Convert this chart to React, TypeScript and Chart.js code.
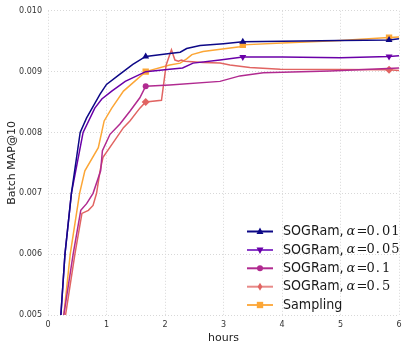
import React, { useEffect, useRef } from "react";
import { Chart, registerables } from "chart.js";

Chart.register(...registerables);

const xTicks = [0, 1, 2, 3, 4, 5, 6];
const yTicks = [0.005, 0.006, 0.007, 0.008, 0.009, 0.01];

const labels = ["SOGRam, α = 0.01", "SOGRam, α = 0.05", "SOGRam, α = 0.1", "SOGRam, α = 0.5", "Sampling"];
const alphaValues = ["0.01", "0.05", "0.1", "0.5", ""];

const s001X = [0.2, 0.22, 0.29, 0.4, 0.55, 0.66, 0.89, 1.0, 1.23, 1.45, 1.67, 2.08, 2.26, 2.37, 2.6, 3.0, 3.33, 4, 5, 5.83, 6];
const s001Y = [0.0046, 0.005, 0.006, 0.007, 0.008, 0.00824, 0.00863, 0.00879, 0.00896, 0.00912, 0.00925, 0.0093, 0.00932, 0.00938, 0.00943, 0.00946, 0.00949, 0.0095, 0.00951, 0.00952, 0.00954];

const s005X = [0.19, 0.22, 0.29, 0.4, 0.6, 0.8, 0.92, 1.09, 1.32, 1.67, 2.08, 2.3, 2.48, 2.94, 3.33, 4, 5, 5.83, 6];
const s005Y = [0.0045, 0.005, 0.006, 0.007, 0.008, 0.0084, 0.00855, 0.00868, 0.00884, 0.009, 0.00904, 0.00906, 0.00914, 0.00919, 0.00924, 0.00924, 0.00923, 0.00925, 0.00926];

const s01X = [0.25, 0.27, 0.43, 0.56, 0.66, 0.77, 0.9, 0.93, 1.06, 1.23, 1.4, 1.57, 1.67, 2.08, 2.94, 3.28, 3.68, 4.82, 6];
const s01Y = [0.0046, 0.005, 0.006, 0.00672, 0.00683, 0.007, 0.00737, 0.0077, 0.00797, 0.00814, 0.00835, 0.00857, 0.00876, 0.00878, 0.00884, 0.00893, 0.00898, 0.00901, 0.00906];

const s05X = [0.28, 0.3, 0.46, 0.58, 0.69, 0.77, 0.83, 0.89, 0.94, 1.09, 1.29, 1.4, 1.57, 1.67, 1.94, 2.02, 2.11, 2.17, 2.23, 2.28, 2.34, 2.65, 2.94, 3.11, 3.45, 3.97, 5.83, 6];
const s05Y = [0.0046, 0.005, 0.006, 0.00667, 0.00672, 0.0068, 0.007, 0.00737, 0.00759, 0.0078, 0.00808, 0.00819, 0.0084, 0.0085, 0.00853, 0.00911, 0.00936, 0.00919, 0.00917, 0.00919, 0.00917, 0.00915, 0.00914, 0.00911, 0.00907, 0.00904, 0.00903, 0.00902];

const sampX = [0.25, 0.27, 0.38, 0.54, 0.63, 0.86, 0.96, 1.09, 1.29, 1.67, 2.08, 2.26, 2.37, 2.46, 2.65, 3.28, 3.33, 4, 5, 5.83, 6];
const sampY = [0.0046, 0.005, 0.006, 0.007, 0.00737, 0.00775, 0.00819, 0.0084, 0.00868, 0.009, 0.00911, 0.00914, 0.00921, 0.00928, 0.00933, 0.00941, 0.00944, 0.00947, 0.00951, 0.00956, 0.00957];

const markers001 = [1.67, 3.33, 5.83];
const markers005 = [3.33, 5.83];
const markers01 = [1.67];
const markers05 = [1.67, 5.83];
const markersSamp = [1.67, 3.33, 5.83];

const colors = ["#0d0887", "#6a00a8", "#b12a90", "#e16462", "#fca636"];
const legendLineColors = ["#0d0887", "#8a3cc8", "#b12a90", "#e88a88", "#fcae4a"];
const styles = ["triangle", "triangle", "circle", "rectRot", "rect"];
const rotations = [0, 180, 0, 0, 0];
const radii = [4, 4, 3, 4, 4.5];

function pts(xs: number[], ys: number[]) {
  return xs.map((x, i) => ({ x, y: ys[i] }));
}

function drawMarker(ctx: CanvasRenderingContext2D, style: string, rot: number, r: number, x: number, y: number, color: string) {
  ctx.save();
  ctx.fillStyle = color;
  ctx.beginPath();
  if (style === "triangle") {
    const s = rot === 180 ? -1 : 1;
    ctx.moveTo(x, y - s * r);
    ctx.lineTo(x + r * 0.87, y + s * r * 0.6);
    ctx.lineTo(x - r * 0.87, y + s * r * 0.6);
    ctx.closePath();
  } else if (style === "circle") {
    ctx.arc(x, y, r, 0, Math.PI * 2);
  } else if (style === "rectRot") {
    ctx.moveTo(x, y - r);
    ctx.lineTo(x + r * 0.6, y);
    ctx.lineTo(x, y + r);
    ctx.lineTo(x - r * 0.6, y);
    ctx.closePath();
  } else {
    const s = r * Math.SQRT1_2;
    ctx.rect(x - s, y - s, 2 * s, 2 * s);
  }
  ctx.fill();
  ctx.restore();
}

const legendPlugin = {
  id: "customLegend",
  afterDraw(chart: any) {
    const ctx: CanvasRenderingContext2D = chart.ctx;
    ctx.save();
    const x0 = 247;
    const x1 = 273;
    const tx = 283;
    const rows = [231.5, 250, 268.3, 286.7, 305];
    for (let i = 0; i < 5; i++) {
      const y = rows[i];
      ctx.strokeStyle = legendLineColors[i];
      ctx.lineWidth = 2;
      ctx.beginPath();
      ctx.moveTo(x0, y);
      ctx.lineTo(x1, y);
      ctx.stroke();
      drawMarker(ctx, styles[i], rotations[i], radii[i], (x0 + x1) / 2, y, colors[i]);
      ctx.fillStyle = "#1a1a1a";
      ctx.textBaseline = "middle";
      ctx.textAlign = "left";
      ctx.save();
      ctx.translate(tx, y);
      ctx.scale(0.94, 1);
      ctx.font = "13.5px 'DejaVu Sans'";
      if (i < 4) {
        ctx.fillText("SOGRam,", 0, 0);
        ctx.restore();
        ctx.font = "italic 13px 'DejaVu Serif'";
        ctx.fillText("α", 346.5, y);
        ctx.font = "13px 'DejaVu Serif'";
        ctx.fillText("=", 356.5, y);
        let cx = 366.5;
        for (const ch of alphaValues[i]) {
          ctx.fillText(ch, cx, y);
          cx += ctx.measureText(ch).width + (ch === "." ? 2 : 1);
        }
      } else {
        ctx.fillText("Sampling", 0, 0);
        ctx.restore();
      }
    }
    ctx.restore();
  },
};

export default function App() {
  const ref = useRef<HTMLCanvasElement | null>(null);
  useEffect(() => {
    document.body.style.margin = "0";
    const series = [pts(s001X, s001Y), pts(s005X, s005Y), pts(s01X, s01Y), pts(s05X, s05Y), pts(sampX, sampY)];
    const markerSets = [markers001, markers005, markers01, markers05, markersSamp];
    const datasets = series.map((data, i) => ({
      label: labels[i],
      data,
      borderColor: colors[i],
      backgroundColor: colors[i],
      borderWidth: 1.5,
      pointStyle: styles[i],
      rotation: rotations[i],
      pointRadius: (c: any) => (markerSets[i].includes(c.raw?.x) ? radii[i] : 0),
      pointBorderWidth: 0,
      pointHoverRadius: 0,
      tension: 0,
    }));
    const chart = new Chart(ref.current!, {
      type: "line",
      data: { datasets: datasets as any },
      plugins: [legendPlugin],
      options: {
        animation: false,
        responsive: false,
        maintainAspectRatio: false,
        layout: { padding: { top: 9, right: 8, left: 0, bottom: 0 } },
        plugins: { legend: { display: false }, tooltip: { enabled: false } },
        scales: {
          x: {
            type: "linear",
            min: 0,
            max: 6,
            afterBuildTicks: (s: any) => { s.ticks = xTicks.map((v) => ({ value: v })); },
            afterFit: (s: any) => { s.height = 35; },
            ticks: { color: "#333", font: { size: 8, family: "'DejaVu Sans'" }, padding: 5, maxRotation: 0 },
            grid: { color: "#d8d8d8", lineWidth: 1, drawTicks: false },
            border: { display: false, dash: [1, 2] },
            title: { display: true, text: "hours", color: "#222", font: { size: 11, family: "'DejaVu Sans'" }, padding: { top: 0, bottom: 5 } },
          },
          y: {
            type: "linear",
            min: 0.005,
            max: 0.01,
            afterBuildTicks: (s: any) => { s.ticks = yTicks.map((v) => ({ value: v })); },
            afterFit: (s: any) => { s.width = 48; },
            ticks: { color: "#333", font: { size: 8, family: "'DejaVu Sans'" }, padding: 6, callback: (v: any) => Number(v).toFixed(3) },
            grid: { color: "#d8d8d8", lineWidth: 1, drawTicks: false },
            border: { display: false, dash: [1, 2] },
            title: { display: true, text: "Batch MAP@10", color: "#222", font: { size: 11, family: "'DejaVu Sans'" }, padding: { top: 6, bottom: 0 } },
          },
        },
      },
    });
    return () => chart.destroy();
  }, []);
  return <canvas ref={ref} width={407} height={350} style={{ display: "block" }} />;
}
